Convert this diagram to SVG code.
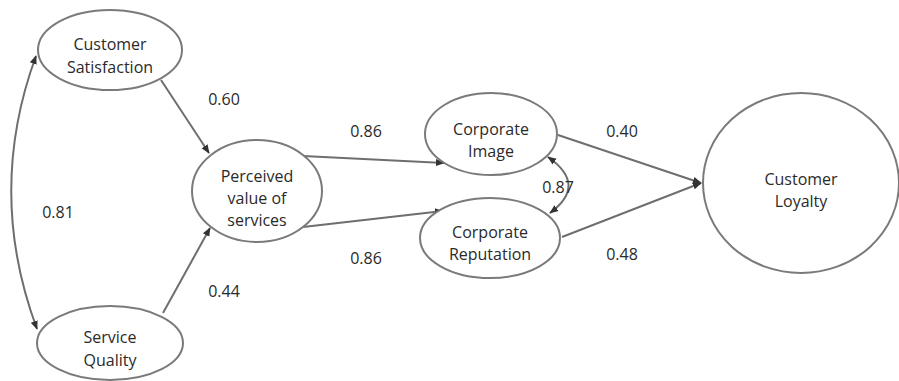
<svg xmlns="http://www.w3.org/2000/svg" width="899" height="381" viewBox="0 0 899 381">
<style>
.node{fill:#fff;stroke:#7a7a7a;stroke-width:2}
.t{font-family:"Open Sans","Noto Sans","Liberation Sans",sans-serif;font-size:16px;fill:#2a2a2a;text-anchor:middle}
.c{fill:none;stroke:#6e6e6e;stroke-width:2}
</style>
<defs>
<marker id="ah" viewBox="0 0 10 10" refX="9" refY="5" markerWidth="9" markerHeight="9" markerUnits="userSpaceOnUse" orient="auto-start-reverse">
<path d="M0,1 L10,5 L0,9 Z" fill="#333"/>
</marker>
</defs>
<rect width="899" height="381" fill="#fff"/>
<g id="connectors">
<path class="c" d="M161,80 L209,153" marker-end="url(#ah)"/>
<path class="c" d="M163,313 L210,228" marker-end="url(#ah)"/>
<path class="c" d="M36,56 Q-14,192 37,329" marker-start="url(#ah)" marker-end="url(#ah)"/>
<path class="c" d="M303,156 L444,163" marker-end="url(#ah)"/>
<path class="c" d="M303,227 L443,211" marker-end="url(#ah)"/>
<path class="c" d="M548,157 Q588,185 550,213" marker-start="url(#ah)" marker-end="url(#ah)"/>
<path class="c" d="M558,135 L701,183" marker-end="url(#ah)"/>
<path class="c" d="M562,237 L701,183" marker-end="url(#ah)"/>
</g>
<g id="labels">
<text class="t" x="224" y="105">0.60</text>
<text class="t" x="58" y="218">0.81</text>
<text class="t" x="224" y="297">0.44</text>
<text class="t" x="366" y="137">0.86</text>
<text class="t" x="366" y="264">0.86</text>
<text class="t" x="558" y="193">0.87</text>
<text class="t" x="622" y="137">0.40</text>
<text class="t" x="622" y="260">0.48</text>
</g>
<g id="customer-satisfaction">
<ellipse class="node" cx="110" cy="50" rx="72" ry="40"/>
<text class="t" x="110" y="50">Customer</text>
<text class="t" x="110" y="73">Satisfaction</text>
</g>
<g id="service-quality">
<ellipse class="node" cx="110" cy="343" rx="73" ry="37"/>
<text class="t" x="110" y="343">Service</text>
<text class="t" x="110" y="366">Quality</text>
</g>
<g id="perceived-value">
<ellipse class="node" cx="257" cy="191" rx="65" ry="51"/>
<text class="t" x="257" y="182">Perceived</text>
<text class="t" x="257" y="204">value of</text>
<text class="t" x="257" y="226">services</text>
</g>
<g id="corporate-image">
<ellipse class="node" cx="491" cy="134" rx="66" ry="41"/>
<text class="t" x="491" y="135">Corporate</text>
<text class="t" x="491" y="157">Image</text>
</g>
<g id="corporate-reputation">
<ellipse class="node" cx="490" cy="238" rx="70" ry="40"/>
<text class="t" x="490" y="238">Corporate</text>
<text class="t" x="490" y="260">Reputation</text>
</g>
<g id="customer-loyalty">
<ellipse class="node" cx="801" cy="183" rx="98" ry="90"/>
<text class="t" x="801" y="185">Customer</text>
<text class="t" x="801" y="207">Loyalty</text>
</g>
</svg>
